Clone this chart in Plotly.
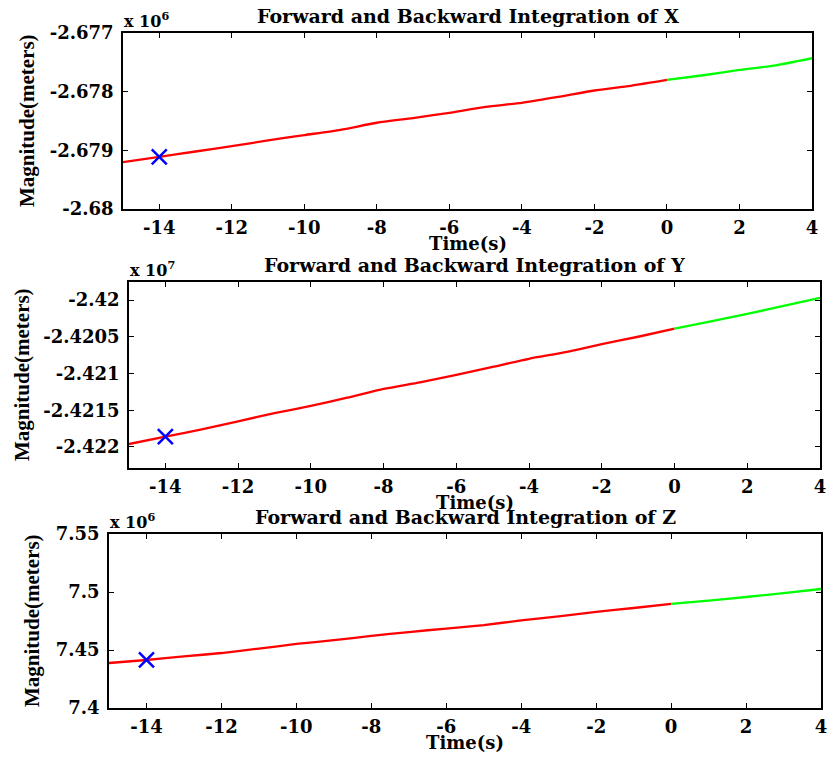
import plotly.graph_objects as go

# ---- data (values in units of the axis multiplier) ----
t_back = [-15, -14, -13, -12, -11, -10, -9, -8, -7, -6, -5, -4, -3, -2, -1, 0]
t_fwd = [0, 1, 2, 3, 4]

x_back = [-2.67920, -2.67911, -2.67902, -2.67893, -2.67883, -2.67874, -2.67865, -2.67853,
          -2.67845, -2.67836, -2.67826, -2.67819, -2.67809, -2.67798, -2.67790, -2.67780]
x_fwd = [-2.67780, -2.67772, -2.67763, -2.67755, -2.67743]

y_back = [-2.42196, -2.42186, -2.42176, -2.42165, -2.42154, -2.42144, -2.42133, -2.42121,
          -2.42112, -2.42102, -2.42091, -2.42080, -2.42071, -2.42060, -2.42050, -2.42039]
y_fwd = [-2.42039, -2.42029, -2.42019, -2.42008, -2.41997]

z_back = [7.4388, 7.4414, 7.4445, 7.4474, 7.4512, 7.4552, 7.4585, 7.4621,
          7.4655, 7.4685, 7.4715, 7.4755, 7.4790, 7.4828, 7.4862, 7.4897]
z_fwd = [7.4897, 7.4925, 7.4957, 7.4991, 7.5026]

mark_t = -14
mark_vals = [-2.67911, -2.42186, 7.4414]

x_ticks = [-14, -12, -10, -8, -6, -4, -2, 0, 2, 4]
x_ticktext = ["-14", "-12", "-10", "-8", "-6", "-4", "-2", "0", "2", "4"]

ticks1 = [-2.68, -2.679, -2.678, -2.677]
ticktext1 = ["-2.68", "-2.679", "-2.678", "-2.677"]
ticks2 = [-2.422, -2.4215, -2.421, -2.4205, -2.42]
ticktext2 = ["-2.422", "-2.4215", "-2.421", "-2.4205", "-2.42"]
ticks3 = [7.4, 7.45, 7.5, 7.55]
ticktext3 = ["7.4", "7.45", "7.5", "7.55"]

titles = ["Forward and Backward Integration of X",
          "Forward and Backward Integration of Y",
          "Forward and Backward Integration of Z"]
exponents = ["6", "7", "6"]

W, H = 827, 757
# pixel boxes of axes: (left, right, top, bottom)
boxes = [(123, 812, 33, 209), (129, 820, 282, 468), (109, 821, 534, 708)]
yranges = [[-2.680, -2.677], [-2.422286, -2.419755], [7.40, 7.55]]
yticks = [(ticks1, ticktext1), (ticks2, ticktext2), (ticks3, ticktext3)]
backs = [x_back, y_back, z_back]
fwds = [x_fwd, y_fwd, z_fwd]

TF = "DejaVu Serif"
LF = "Liberation Serif"

fig = go.Figure()
annotations = []
layout = {}
for i in range(3):
    sfx = "" if i == 0 else str(i + 1)
    xa, ya = "x" + sfx, "y" + sfx
    l, r, t, b = boxes[i]
    fig.add_trace(go.Scatter(x=t_back, y=backs[i], mode="lines",
                             line=dict(color="#ff0000", width=2.3, shape="spline", smoothing=0.6),
                             xaxis=xa, yaxis=ya, showlegend=False, hoverinfo="skip"))
    fig.add_trace(go.Scatter(x=t_fwd, y=fwds[i], mode="lines",
                             line=dict(color="#00ff00", width=2.3, shape="spline", smoothing=0.6),
                             xaxis=xa, yaxis=ya, showlegend=False, hoverinfo="skip"))
    fig.add_trace(go.Scatter(x=[mark_t], y=[mark_vals[i]], mode="markers",
                             marker=dict(symbol="x-thin", size=15, color="#0000ff",
                                         line=dict(color="#0000ff", width=2.5)),
                             xaxis=xa, yaxis=ya, showlegend=False, hoverinfo="skip"))
    common = dict(showline=True, linecolor="black", linewidth=1.5, mirror="allticks",
                  ticks="inside", ticklen=5, tickcolor="black", tickwidth=1,
                  showgrid=False, zeroline=False, automargin=False,
                  ticklabeloverflow="allow",
                  tickfont=dict(family=TF, size=18, color="black", weight="bold"))
    layout["xaxis" + sfx] = dict(common, domain=[l / W, r / W], range=[-15, 4],
                                 tickvals=x_ticks, ticktext=x_ticktext,
                                 anchor=ya, ticklabelstandoff=2)
    layout["yaxis" + sfx] = dict(common, domain=[1 - b / H, 1 - t / H], range=yranges[i],
                                 tickvals=yticks[i][0], ticktext=yticks[i][1],
                                 anchor=xa, ticklabelstandoff=4)
    cx = (l + r) / 2
    # title
    annotations.append(dict(text="<b>" + titles[i] + "</b>", x=cx / W, y=1 - (t - 17) / H,
                            xref="paper", yref="paper", showarrow=False,
                            xanchor="center", yanchor="middle",
                            font=dict(family=TF, size=19, color="black")))
    # multiplier
    annotations.append(dict(text="<b>x 10<sup>" + exponents[i] + "</sup></b>",
                            x=(l - 1) / W, y=1 - (t - 13) / H,
                            xref="paper", yref="paper", showarrow=False,
                            xanchor="left", yanchor="middle",
                            font=dict(family=TF, size=16, color="black")))
    # x label
    annotations.append(dict(text="<b>Time(s)</b>", x=cx / W, y=1 - (b + 34) / H,
                            xref="paper", yref="paper", showarrow=False,
                            xanchor="center", yanchor="middle",
                            font=dict(family=TF, size=18, color="black")))

ylab_x = [27, 22, 32]
for i in range(3):
    l, r, t, b = boxes[i]
    annotations.append(dict(text="<b>Magnitude(meters)</b>", x=ylab_x[i] / W,
                            y=1 - ((t + b) / 2) / H,
                            xref="paper", yref="paper", showarrow=False,
                            xanchor="center", yanchor="middle", textangle=-90,
                            font=dict(family=LF, size=21, color="black")))

fig.update_layout(**layout)
fig.update_layout(width=W, height=H, autosize=False,
                  margin=dict(l=0, r=0, t=0, b=0, pad=0, autoexpand=False),
                  paper_bgcolor="white", plot_bgcolor="white",
                  hovermode=False, annotations=annotations)
fig.write_html("out.html", config={"displayModeBar": False, "responsive": False},
               post_script="document.body.style.margin='0';document.body.style.overflow='hidden';")
